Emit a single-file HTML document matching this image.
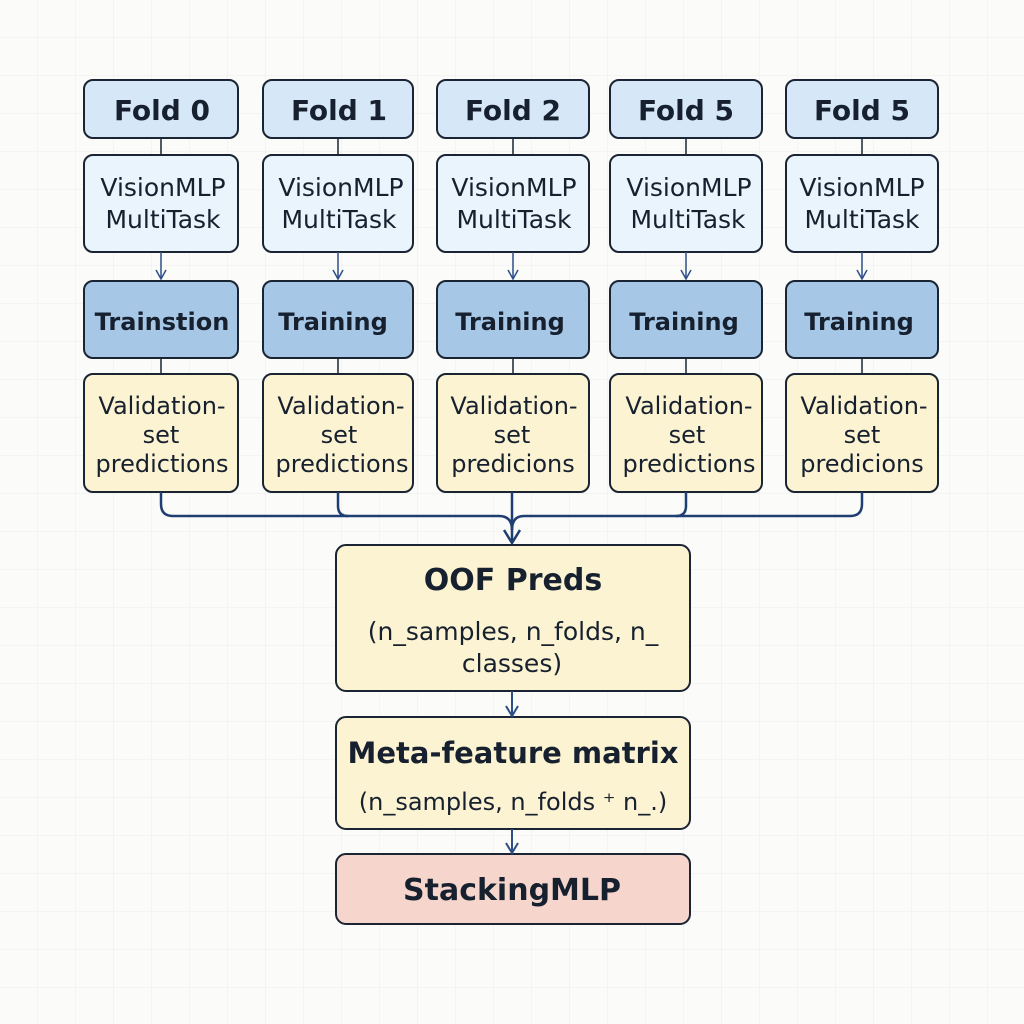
<!DOCTYPE html>
<html><head><meta charset="utf-8"><style>
html,body{margin:0;padding:0;background:#fbfbf9;}
svg{display:block;}
text{font-family:"DejaVu Sans","Liberation Sans",sans-serif;fill:#16202e;text-anchor:middle;}
</style></head><body>
<svg width="1024" height="1024" viewBox="0 0 1024 1024" xmlns="http://www.w3.org/2000/svg">
<defs>
<pattern id="g" width="38" height="38" patternUnits="userSpaceOnUse">
<path d="M38 0V38H0" fill="none" stroke="#ecedea" stroke-width="1"/>
</pattern>
</defs>
<rect width="1024" height="1024" fill="#fbfbf9"/>
<rect width="1024" height="1024" fill="url(#g)"/>
<g stroke="#1a2433" stroke-width="2">
<rect x="84" y="80" width="154" height="58" rx="9" fill="#d6e7f7"/>
<rect x="263" y="80" width="150" height="58" rx="9" fill="#d6e7f7"/>
<rect x="437" y="80" width="152" height="58" rx="9" fill="#d6e7f7"/>
<rect x="610" y="80" width="152" height="58" rx="9" fill="#d6e7f7"/>
<rect x="786" y="80" width="152" height="58" rx="9" fill="#d6e7f7"/>

<rect x="84" y="155" width="154" height="97" rx="9" fill="#eaf4fd"/>
<rect x="263" y="155" width="150" height="97" rx="9" fill="#eaf4fd"/>
<rect x="437" y="155" width="152" height="97" rx="9" fill="#eaf4fd"/>
<rect x="610" y="155" width="152" height="97" rx="9" fill="#eaf4fd"/>
<rect x="786" y="155" width="152" height="97" rx="9" fill="#eaf4fd"/>

<rect x="84" y="281" width="154" height="77" rx="9" fill="#a7c7e6"/>
<rect x="263" y="281" width="150" height="77" rx="9" fill="#a7c7e6"/>
<rect x="437" y="281" width="152" height="77" rx="9" fill="#a7c7e6"/>
<rect x="610" y="281" width="152" height="77" rx="9" fill="#a7c7e6"/>
<rect x="786" y="281" width="152" height="77" rx="9" fill="#a7c7e6"/>

<rect x="84" y="374" width="154" height="118" rx="9" fill="#fcf3d2"/>
<rect x="263" y="374" width="150" height="118" rx="9" fill="#fcf3d2"/>
<rect x="437" y="374" width="152" height="118" rx="9" fill="#fcf3d2"/>
<rect x="610" y="374" width="152" height="118" rx="9" fill="#fcf3d2"/>
<rect x="786" y="374" width="152" height="118" rx="9" fill="#fcf3d2"/>

<rect x="336" y="545" width="354" height="146" rx="10" fill="#fcf3d2"/>
<rect x="336" y="717" width="354" height="112" rx="10" fill="#fcf3d2"/>
<rect x="336" y="854" width="354" height="70" rx="10" fill="#f6d6cc"/>
</g>
<g fill="none" stroke-width="1.5">
<g stroke="#1a2433">
<line x1="161" y1="138" x2="161" y2="155"/><line x1="338" y1="138" x2="338" y2="155"/>
<line x1="513" y1="138" x2="513" y2="155"/><line x1="686" y1="138" x2="686" y2="155"/>
<line x1="862" y1="138" x2="862" y2="155"/>
<line x1="161" y1="358" x2="161" y2="374"/><line x1="338" y1="358" x2="338" y2="374"/>
<line x1="513" y1="358" x2="513" y2="374"/><line x1="686" y1="358" x2="686" y2="374"/>
<line x1="862" y1="358" x2="862" y2="374"/>
</g>
<g stroke="#2d4f86">
<line x1="161" y1="252" x2="161" y2="279"/><line x1="338" y1="252" x2="338" y2="279"/>
<line x1="513" y1="252" x2="513" y2="279"/><line x1="686" y1="252" x2="686" y2="279"/>
<line x1="862" y1="252" x2="862" y2="279"/>
<path d="M156 270l5 9 5-9M333 270l5 9 5-9M508 270l5 9 5-9M681 270l5 9 5-9M857 270l5 9 5-9"/>
</g>
<g stroke="#1f3f73" stroke-width="2.5">
<path d="M161 492v12q0 12 12 12h326q13 0 13 14v13"/>
<path d="M862 492v12q0 12-12 12h-326q-12 0-12 14"/>
<path d="M338 492v14q0 10 10 10"/>
<path d="M686 492v14q0 10-10 10"/>
<line x1="512" y1="492" x2="512" y2="530"/>
<path d="M504 530l8 13 8-13"/>
</g>
<g stroke="#2d4f86" stroke-width="2">
<line x1="512" y1="691" x2="512" y2="716"/><path d="M506 706l6 10 6-10"/>
<line x1="512" y1="829" x2="512" y2="853"/><path d="M506 843l6 10 6-10"/>
</g>
</g>
<g font-size="28" font-weight="bold">
<text x="162" y="120">Fold 0</text><text x="339" y="120">Fold 1</text>
<text x="513" y="120">Fold 2</text><text x="686" y="120">Fold 5</text>
<text x="862" y="120">Fold 5</text>
</g>
<g font-size="25">
<text x="163" y="196">VisionMLP</text><text x="163" y="228">MultiTask</text>
<text x="341" y="196">VisionMLP</text><text x="339" y="228">MultiTask</text>
<text x="514" y="196">VisionMLP</text><text x="514" y="228">MultiTask</text>
<text x="689" y="196">VisionMLP</text><text x="688" y="228">MultiTask</text>
<text x="862" y="196">VisionMLP</text><text x="862" y="228">MultiTask</text>
</g>
<g font-size="24" font-weight="bold">
<text x="162" y="330">Trainstion</text><text x="333" y="330">Training</text>
<text x="510" y="330">Training</text><text x="684" y="330">Training</text>
<text x="859" y="330">Training</text>
</g>
<g font-size="24">
<text x="162" y="414">Validation-</text><text x="161" y="443">set</text><text x="162" y="472">predictions</text>
<text x="341" y="414">Validation-</text><text x="339" y="443">set</text><text x="342" y="472">predictions</text>
<text x="514" y="414">Validation-</text><text x="512" y="443">set</text><text x="513" y="472">predicions</text>
<text x="689" y="414">Validation-</text><text x="687" y="443">set</text><text x="689" y="472">predictions</text>
<text x="864" y="414">Validation-</text><text x="862" y="443">set</text><text x="862" y="472">predicions</text>
</g>
<text x="513" y="590" font-size="30" font-weight="bold" fill="#14233b">OOF Preds</text>
<text x="513" y="640" font-size="25">(n_samples, n_folds, n_</text>
<text x="512" y="672" font-size="25">classes)</text>
<text x="513" y="763" font-size="29" font-weight="bold" fill="#14233b">Meta-feature matrix</text>
<text x="513" y="810" font-size="24">(n_samples, n_folds ⁺ n_.)</text>
<text x="512" y="900" font-size="30" font-weight="bold" fill="#14233b">StackingMLP</text>
</svg>
</body></html>
